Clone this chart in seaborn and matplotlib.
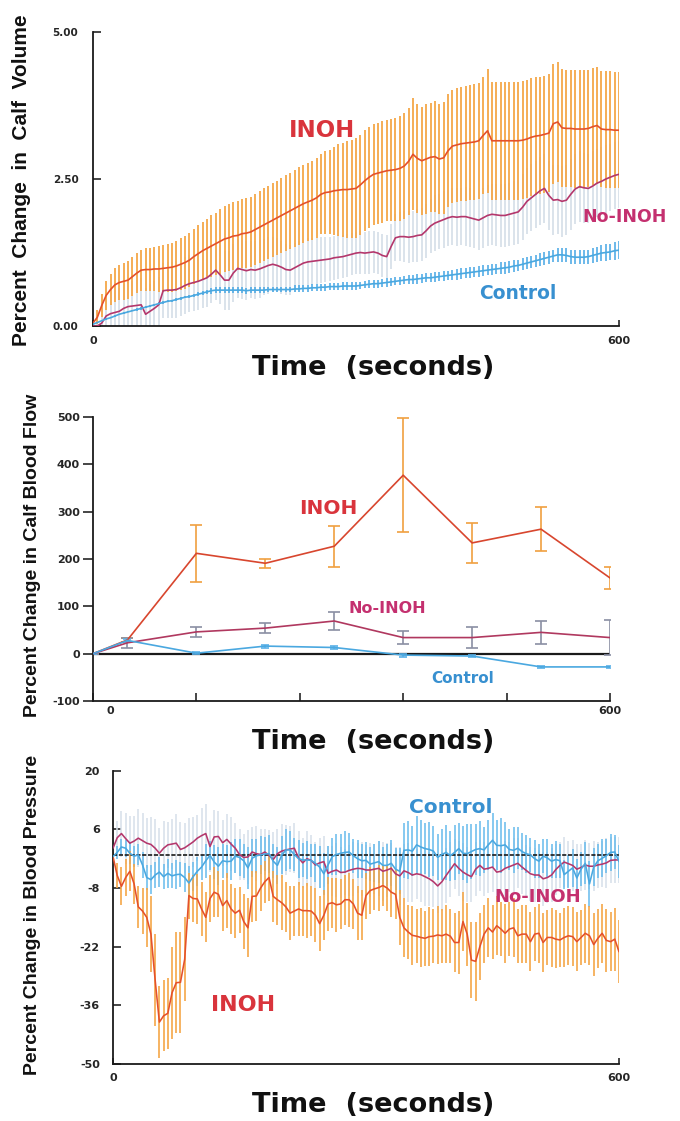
import numpy as np
import pandas as pd
import matplotlib
matplotlib.use("Agg")
import matplotlib.pyplot as plt
import seaborn as sns
from matplotlib.transforms import ScaledTranslation

sns.set_style("ticks")
plt.rcParams["font.family"] = ["DejaVu Sans"]
plt.rcParams["font.weight"] = "bold"
plt.rcParams["axes.unicode_minus"] = False

# ---------------- DATA ----------------
groups = ["INOH", "No-INOH", "Control"]

# Panel 1: calf volume (% change), sampled every 5 s
vol_time = np.arange(0, 601, 5)
vol_inoh = [
    0.05, 0.15, 0.35, 0.52, 0.62, 0.70, 0.74, 0.76, 0.78, 0.84,
    0.90, 0.95, 0.96, 0.96, 0.97, 0.97, 0.98, 0.99, 1.00, 1.02,
    1.05, 1.08, 1.12, 1.18, 1.23, 1.28, 1.32, 1.36, 1.40, 1.44,
    1.48, 1.50, 1.53, 1.54, 1.57, 1.58, 1.60, 1.64, 1.68, 1.72,
    1.76, 1.80, 1.84, 1.88, 1.92, 1.96, 2.00, 2.04, 2.08, 2.11,
    2.14, 2.18, 2.24, 2.27, 2.28, 2.30, 2.31, 2.32, 2.32, 2.33,
    2.34, 2.40, 2.47, 2.53, 2.58, 2.60, 2.62, 2.64, 2.65, 2.66,
    2.68, 2.72, 2.80, 2.92, 2.85, 2.81, 2.84, 2.87, 2.88, 2.84,
    2.86, 2.98, 3.06, 3.08, 3.10, 3.11, 3.12, 3.13, 3.15, 3.24,
    3.32, 3.15, 3.15, 3.15, 3.15, 3.15, 3.15, 3.15, 3.16, 3.18,
    3.21, 3.23, 3.24, 3.26, 3.28, 3.44, 3.47, 3.37, 3.36, 3.36,
    3.35, 3.35, 3.35, 3.36, 3.39, 3.41, 3.35, 3.34, 3.34, 3.33,
    3.33]
vol_inoh_err = [
    0.05, 0.12, 0.20, 0.24, 0.27, 0.29, 0.30, 0.31, 0.32, 0.33,
    0.34, 0.35, 0.36, 0.37, 0.38, 0.39, 0.40, 0.41, 0.42, 0.43,
    0.44, 0.45, 0.46, 0.47, 0.48, 0.49, 0.50, 0.52, 0.53, 0.55,
    0.56, 0.57, 0.58, 0.58, 0.59, 0.60, 0.60, 0.61, 0.61, 0.62,
    0.62, 0.63, 0.63, 0.64, 0.64, 0.65, 0.65, 0.66, 0.66, 0.67,
    0.67, 0.68, 0.68, 0.70, 0.72, 0.75, 0.78, 0.80, 0.82, 0.84,
    0.85, 0.85, 0.86, 0.86, 0.86, 0.86, 0.86, 0.86, 0.87, 0.88,
    0.89, 0.90, 0.91, 0.95, 0.92, 0.92, 0.93, 0.93, 0.94, 0.94,
    0.95, 0.96, 0.96, 0.97, 0.97, 0.98, 0.98, 0.99, 0.99, 1.00,
    1.05, 1.00, 1.00, 1.00, 1.00, 1.00, 1.00, 1.00, 1.00, 1.00,
    1.00, 1.00, 1.00, 1.00, 1.00, 1.02, 1.02, 1.00, 1.00, 1.00,
    1.00, 1.00, 1.00, 1.00, 0.99, 0.99, 0.99, 0.99, 0.99, 0.99,
    0.99]
vol_noinoh = [
    0.00, 0.00, 0.05, 0.17, 0.21, 0.23, 0.25, 0.30, 0.33, 0.34,
    0.35, 0.36, 0.20, 0.25, 0.30, 0.36, 0.60, 0.61, 0.61, 0.62,
    0.65, 0.69, 0.72, 0.74, 0.76, 0.79, 0.82, 0.88, 0.95, 0.87,
    0.78, 0.78, 0.90, 0.98, 0.96, 0.94, 0.96, 0.95, 0.97, 1.00,
    1.03, 1.05, 1.03, 1.00, 0.96, 0.95, 0.99, 1.03, 1.07, 1.09,
    1.10, 1.11, 1.12, 1.13, 1.14, 1.16, 1.17, 1.18, 1.20, 1.22,
    1.24, 1.25, 1.24, 1.25, 1.26, 1.24, 1.20, 1.18, 1.35, 1.50,
    1.52, 1.52, 1.51, 1.52, 1.54, 1.55, 1.62, 1.70, 1.75, 1.78,
    1.81, 1.84, 1.86, 1.85, 1.86, 1.86, 1.84, 1.82, 1.80, 1.84,
    1.88, 1.90, 1.89, 1.88, 1.88, 1.90, 1.92, 1.94, 2.02, 2.12,
    2.18, 2.24, 2.30, 2.34, 2.22, 2.14, 2.15, 2.12, 2.14, 2.24,
    2.33, 2.37, 2.35, 2.34, 2.38, 2.43, 2.46, 2.50, 2.53, 2.56,
    2.58]
vol_noinoh_err = [
    0.05, 0.15, 0.25, 0.32, 0.36, 0.38, 0.40, 0.41, 0.42, 0.43,
    0.44, 0.45, 0.45, 0.46, 0.46, 0.47, 0.47, 0.47, 0.48, 0.48,
    0.48, 0.48, 0.48, 0.48, 0.49, 0.49, 0.49, 0.49, 0.50, 0.50,
    0.50, 0.50, 0.50, 0.50, 0.50, 0.50, 0.49, 0.49, 0.49, 0.48,
    0.48, 0.47, 0.46, 0.45, 0.44, 0.43, 0.42, 0.41, 0.40, 0.40,
    0.40, 0.39, 0.39, 0.38, 0.38, 0.37, 0.37, 0.37, 0.36, 0.36,
    0.36, 0.36, 0.36, 0.36, 0.36, 0.36, 0.36, 0.36, 0.38, 0.40,
    0.42, 0.43, 0.44, 0.44, 0.45, 0.45, 0.46, 0.46, 0.47, 0.47,
    0.48, 0.48, 0.48, 0.49, 0.49, 0.50, 0.50, 0.50, 0.51, 0.51,
    0.52, 0.52, 0.53, 0.53, 0.54, 0.54, 0.55, 0.55, 0.56, 0.56,
    0.57, 0.57, 0.58, 0.58, 0.59, 0.59, 0.59, 0.60, 0.60, 0.60,
    0.60, 0.60, 0.60, 0.59, 0.59, 0.58, 0.58, 0.58, 0.57, 0.57,
    0.57]
vol_control = [
    0.03, 0.06, 0.09, 0.12, 0.14, 0.17, 0.20, 0.22, 0.24, 0.26,
    0.28, 0.30, 0.32, 0.34, 0.36, 0.38, 0.40, 0.42, 0.43, 0.45,
    0.47, 0.49, 0.50, 0.52, 0.54, 0.56, 0.58, 0.60, 0.61, 0.61,
    0.61, 0.61, 0.61, 0.61, 0.61, 0.60, 0.61, 0.61, 0.61, 0.61,
    0.62, 0.62, 0.62, 0.62, 0.62, 0.62, 0.63, 0.63, 0.64, 0.64,
    0.65, 0.65, 0.66, 0.66, 0.67, 0.67, 0.67, 0.68, 0.68, 0.68,
    0.68, 0.69, 0.70, 0.71, 0.72, 0.72, 0.73, 0.74, 0.75, 0.76,
    0.77, 0.78, 0.79, 0.79, 0.80, 0.81, 0.82, 0.82, 0.83, 0.84,
    0.85, 0.86, 0.87, 0.88, 0.89, 0.90, 0.91, 0.92, 0.93, 0.94,
    0.95, 0.96, 0.97, 0.98, 0.99, 1.00, 1.02, 1.03, 1.05, 1.07,
    1.09, 1.11, 1.13, 1.15, 1.17, 1.19, 1.21, 1.21, 1.20, 1.18,
    1.17, 1.17, 1.17, 1.18, 1.20, 1.22, 1.24, 1.25, 1.26, 1.28,
    1.29]
vol_control_err = [
    0.01, 0.01, 0.01, 0.01, 0.01, 0.01, 0.01, 0.01, 0.01, 0.01,
    0.02, 0.02, 0.02, 0.02, 0.02, 0.02, 0.02, 0.02, 0.02, 0.02,
    0.02, 0.02, 0.03, 0.03, 0.03, 0.03, 0.04, 0.05, 0.05, 0.05,
    0.05, 0.05, 0.05, 0.05, 0.05, 0.05, 0.05, 0.05, 0.05, 0.05,
    0.05, 0.05, 0.05, 0.05, 0.05, 0.05, 0.06, 0.06, 0.06, 0.06,
    0.06, 0.06, 0.06, 0.06, 0.06, 0.06, 0.06, 0.06, 0.06, 0.06,
    0.06, 0.06, 0.06, 0.07, 0.07, 0.07, 0.07, 0.07, 0.07, 0.07,
    0.07, 0.07, 0.08, 0.08, 0.08, 0.08, 0.08, 0.08, 0.08, 0.08,
    0.08, 0.08, 0.08, 0.09, 0.09, 0.09, 0.09, 0.09, 0.09, 0.09,
    0.09, 0.09, 0.09, 0.10, 0.10, 0.10, 0.10, 0.10, 0.10, 0.10,
    0.10, 0.10, 0.11, 0.11, 0.11, 0.11, 0.12, 0.12, 0.12, 0.12,
    0.12, 0.12, 0.12, 0.12, 0.13, 0.13, 0.13, 0.14, 0.14, 0.15,
    0.15]

# Panel 2: calf blood flow (% change)
flow_time = [0, 40, 120, 200, 280, 360, 440, 520, 600]
flow_inoh = [0, 29, 212, 191, 227, 377, 234, 263, 160]
flow_inoh_err = [0, 5, 60, 10, 43, 121, 43, 47, 24]
flow_noinoh = [0, 23, 46, 54, 69, 34, 34, 45, 34]
flow_noinoh_err = [0, 10, 10, 10, 20, 14, 22, 24, 37]
flow_control = [0, 28, 1, 16, 13, -3, -5, -28, -28]
flow_control_err = [0, 3, 2, 3, 3, 3, 3, 2, 3]

# Panel 3: blood pressure (% change), sampled every 5 s
bp_time = np.arange(0, 601, 5)
bp_inoh = [
    -0.5, -5.0, -7.6, -5.5, -4.0, -7.0, -12.5, -13.5, -15.0, -19.0,
    -30.0, -40.0, -38.5, -37.9, -33.0, -30.6, -30.5, -25.0, -9.8, -10.5,
    -10.6, -13.0, -15.0, -10.5, -9.0, -9.5, -12.2, -11.0, -13.0, -14.0,
    -13.3, -16.0, -17.5, -10.0, -9.9, -8.0, -6.5, -5.5, -10.0, -10.8,
    -11.5, -12.5, -14.0, -13.5, -13.0, -13.4, -13.4, -13.5, -14.5, -16.5,
    -14.5, -11.8, -11.5, -12.0, -11.8, -10.8, -10.8, -11.8, -14.0, -14.5,
    -9.8, -8.6, -8.2, -7.9, -7.4, -8.0, -9.0, -9.5, -15.0, -17.5,
    -18.5, -19.3, -19.5, -19.8, -20.0, -19.6, -19.5, -19.2, -19.4, -19.0,
    -19.5, -21.0, -21.0, -16.0, -19.0, -25.2, -25.5, -22.0, -19.0, -17.5,
    -18.5, -17.0, -17.8, -18.8, -17.8, -17.5, -19.4, -19.0, -19.0, -20.8,
    -19.0, -18.8, -21.0, -19.8, -19.8, -20.2, -20.4, -19.8, -19.4, -19.6,
    -20.8, -19.8, -18.8, -19.4, -21.5, -20.0, -18.8, -20.5, -20.8, -20.2,
    -23.2]
bp_inoh_err = [
    1.0, 3.0, 4.5, 4.5, 4.8, 4.8, 5.0, 5.5, 7.0, 9.0,
    11.0, 8.5, 8.5, 8.5, 11.0, 12.0, 12.0, 10.0, 5.5, 5.5,
    6.0, 6.5, 6.0, 5.5, 6.0, 5.5, 6.0, 6.5, 6.0, 6.0,
    5.5, 6.5, 7.0, 6.0, 6.0, 5.5, 5.0, 5.5, 6.0, 6.0,
    6.5, 6.0, 6.5, 6.0, 6.5, 6.0, 6.5, 6.0, 6.5, 6.5,
    6.0, 6.5, 6.0, 6.5, 6.0, 6.0, 6.5, 6.0, 6.5, 6.0,
    5.5, 5.5, 5.0, 5.5, 5.0, 5.5, 6.0, 6.0, 6.5, 7.0,
    6.5, 7.0, 6.5, 7.0, 6.5, 7.0, 6.5, 7.0, 6.5, 7.0,
    6.5, 7.0, 7.5, 7.0, 7.5, 9.0, 9.5, 8.0, 7.0, 7.0,
    6.5, 7.0, 6.5, 7.0, 6.5, 7.0, 6.5, 7.0, 7.0, 7.0,
    6.5, 7.0, 7.0, 6.5, 7.0, 7.0, 6.5, 7.0, 7.0, 7.0,
    7.0, 6.5, 7.0, 7.0, 7.5, 7.0, 7.0, 7.5, 7.0, 7.5,
    7.5]
bp_noinoh = [
    1.5, 4.0, 5.0, 3.8, 2.7, 3.2, 3.9, 3.3, 2.7, 2.4,
    1.5, 0.3, 1.5, 2.3, 2.5, 2.7, 1.2, 1.6, 2.3, 3.0,
    3.9, 4.5, 5.0, 1.9, 4.2, 4.3, 2.8, 3.6, 2.5, 1.5,
    0.0, -0.7, -0.6, 0.6, 0.2, 0.0, 0.6, -0.2, -1.2, 0.2,
    0.8, 1.1, 1.3, 1.5, -0.8, -2.0, -1.0, -1.4, -2.5, -2.0,
    -1.7, -4.5, -4.0, -3.7, -4.3, -4.2, -3.8, -3.5, -3.3, -3.4,
    -3.7, -3.7, -3.5, -3.3, -4.0, -3.7, -3.3, -4.6, -5.1, -3.9,
    -4.3, -4.9, -4.6, -4.8, -5.3, -5.8, -6.5, -7.5, -6.5, -5.0,
    -3.6, -2.2, -3.3, -4.2, -4.8, -5.3, -3.5, -2.6, -3.5, -3.3,
    -3.0, -4.2, -4.0, -3.3, -2.9, -2.5, -2.1, -3.0, -3.8, -4.6,
    -4.9, -4.9, -5.8, -5.5, -4.9, -3.6, -2.6, -1.8, -2.2, -2.6,
    -3.5, -3.1, -2.5, -2.8, -2.8, -2.5, -2.3, -2.0, -1.4, -1.3,
    -1.3]
bp_noinoh_err = [
    2.0, 4.0, 5.5, 6.0, 6.5, 6.0, 7.0, 6.5, 6.0, 6.5,
    7.0, 6.0, 6.5, 5.5, 6.0, 7.0, 6.5, 6.0, 6.5, 6.0,
    5.5, 6.5, 7.0, 6.0, 6.5, 6.0, 5.5, 6.0, 6.5, 6.0,
    6.0, 5.5, 6.5, 6.0, 6.5, 6.0, 5.5, 6.0, 6.5, 6.0,
    6.5, 6.0, 5.5, 6.0, 6.5, 6.0, 6.5, 6.0, 5.5, 6.0,
    6.0, 6.5, 6.0, 6.5, 6.0, 5.5, 6.0, 6.5, 6.0, 6.5,
    6.0, 6.5, 6.0, 6.5, 7.0, 6.5, 6.0, 6.5, 7.0, 6.5,
    7.0, 6.5, 6.0, 6.5, 7.0, 6.5, 6.0, 6.5, 7.0, 6.5,
    6.5, 6.0, 6.5, 7.0, 6.5, 6.0, 6.5, 6.0, 6.5, 6.0,
    6.0, 6.5, 6.0, 6.5, 6.0, 6.5, 6.0, 6.5, 6.0, 6.5,
    6.5, 6.0, 6.5, 6.0, 6.5, 6.0, 5.5, 6.0, 5.5, 6.0,
    6.0, 5.5, 6.0, 5.5, 6.0, 5.5, 5.5, 6.0, 5.5, 5.5,
    5.5]
bp_control = [
    -0.5, 0.5, 1.8, 1.5, 0.3, -0.4, -0.1, -2.5, -5.5, -6.0,
    -4.9, -4.2, -5.3, -4.5, -5.1, -4.8, -4.7, -5.5, -6.8, -5.3,
    -4.0, -3.0, -1.5, -0.2, -1.8, -2.8, -1.5, -1.7, -1.6, -0.4,
    -0.7, -1.5, -3.2, -0.9, -0.3, -0.1, 0.1, 0.2, -1.6, -2.6,
    -0.2, 1.1, 1.1, 0.0, -1.0, -1.3, -1.3, -1.4, -2.1, -3.0,
    -4.6, -2.5, -0.5, 0.0, 0.3, 0.5, 0.6, -0.3, -1.0, -1.5,
    -1.4, -2.3, -2.0, -1.7, -2.6, -2.6, -2.1, -3.5, -4.0, 1.0,
    1.1, 0.8, 2.3, 1.8, 1.4, 1.2, 0.8, -0.7, 0.0, 0.5,
    -0.3, 0.5, 1.4, 0.3, 0.2, 0.7, 1.2, 1.4, 1.1, 2.3,
    3.4, 2.2, 2.1, 2.3, 1.2, 1.0, 1.5, 0.7, 0.2, -0.1,
    -1.0, -1.6, -0.4, -0.8, -1.6, -1.2, -1.5, -4.8, -4.0, -3.2,
    -5.6, -3.5, -2.1, -7.0, -3.0, -1.5, -0.9, -0.3, 0.5, 0.6,
    -1.7]
bp_control_err = [
    1.0, 1.5, 2.0, 2.0, 2.5, 2.5, 2.5, 3.0, 3.0, 3.5,
    3.0, 3.5, 3.0, 3.5, 3.0, 3.5, 3.0, 3.5, 4.0, 3.5,
    3.5, 3.0, 4.0, 3.5, 4.0, 4.5, 4.0, 4.0, 4.5, 4.0,
    4.5, 4.0, 5.0, 4.5, 4.0, 4.5, 4.0, 4.5, 4.0, 4.5,
    4.5, 5.0, 4.5, 4.0, 4.5, 4.0, 4.5, 4.0, 4.5, 5.0,
    5.0, 4.5, 4.5, 5.0, 4.5, 5.0, 4.5, 4.0, 4.5, 4.0,
    4.5, 4.0, 4.5, 5.0, 4.5, 5.0, 5.5, 5.0, 5.5, 6.5,
    7.0, 6.0, 7.0, 6.5, 6.0, 6.5, 6.0, 5.5, 6.0, 6.5,
    6.0, 6.5, 6.0, 6.5, 7.0, 6.5, 6.0, 6.5, 5.5, 6.0,
    6.5, 6.0, 6.5, 5.5, 5.0, 5.5, 5.0, 4.5, 4.5, 4.0,
    4.5, 4.0, 4.0, 4.5, 4.0, 4.5, 4.0, 3.5, 4.0, 4.5,
    4.5, 4.0, 5.0, 5.5, 4.5, 4.0, 4.5, 4.0, 4.5, 4.0,
    4.0]

# ---------------- STYLE ----------------
line_colors = {"INOH": "#e4512b", "No-INOH": "#b4376c", "Control": "#4aa8e0"}
label_colors = {"INOH": "#d9343c", "No-INOH": "#c4306f", "Control": "#3890d0"}
W, H = 680, 1121

fig = plt.figure(figsize=(6.8, 11.21), dpi=100)


def rect(l, t, r, b):
    return [l / W, 1 - b / H, (r - l) / W, (b - t) / H]


ax1 = fig.add_axes(rect(93, 32, 619, 326))
ax2 = fig.add_axes(rect(93, 417, 610, 701))
ax3 = fig.add_axes(rect(113, 770.7, 619, 1064))


def long_df(t, series):
    frames = []
    for g, v in zip(groups, series):
        frames.append(pd.DataFrame({"time": np.asarray(t), "value": np.asarray(v, float), "group": g}))
    return pd.concat(frames, ignore_index=True)


def style(ax):
    for s in ["top", "right"]:
        ax.spines[s].set_visible(False)
    for s in ["left", "bottom"]:
        ax.spines[s].set_linewidth(1.3)
        ax.spines[s].set_color("#1a1a1a")
    ax.set_xlabel("")
    ax.set_ylabel("")
    ax.grid(False)


def bars(ax, t, m, e, color, lw, z):
    m = np.asarray(m, float)
    e = np.asarray(e, float)
    ax.vlines(t, m - e, m + e, color=color, lw=lw, zorder=z)


# ---- Panel 1 ----
bars(ax1, vol_time, vol_noinoh, vol_noinoh_err, "#d6dfe9", 1.25, 1)
bars(ax1, vol_time, vol_inoh, vol_inoh_err, "#f5a748", 1.3, 2)
bars(ax1, vol_time, vol_control, vol_control_err, "#45a6e4", 1.1, 3)
sns.lineplot(data=long_df(vol_time, [vol_inoh, vol_noinoh, vol_control]),
             x="time", y="value", hue="group", palette=line_colors,
             estimator=None, linewidth=1.2, legend=False, ax=ax1, zorder=4)
ax1.set_xlim(0, 600)
ax1.set_ylim(0, 5)
ax1.set_yticks([0, 2.5, 5])
ax1.set_yticklabels(["0.00", "2.50", "5.00"])
ax1.set_xticks([0, 600])
ax1.set_xticklabels(["0", "600"])
ax1.tick_params(axis="y", direction="in", length=6, width=1.2, pad=10.5, labelsize=7.5)
ax1.tick_params(axis="x", direction="in", length=4, width=1.2, pad=7, labelsize=8)
style(ax1)
ax1.text(261, 3.33, "INOH", color=label_colors["INOH"], fontsize=16.5, ha="center", va="center")
ax1.text(606, 1.85, "No-INOH", color=label_colors["No-INOH"], fontsize=12.5, ha="center", va="center", clip_on=False)
ax1.text(485, 0.56, "Control", color=label_colors["Control"], fontsize=13.5, ha="center", va="center")

# ---- Panel 2 ----
ax2.axhline(0, color="#1a1a1a", lw=1.6, zorder=1)
ax2.errorbar(flow_time, flow_inoh, yerr=flow_inoh_err, fmt="none", ecolor="#f0a040",
             elinewidth=1.2, capsize=4, capthick=1.2, zorder=2)
ax2.errorbar(flow_time, flow_noinoh, yerr=flow_noinoh_err, fmt="none", ecolor="#8a8fa3",
             elinewidth=1.2, capsize=4, capthick=1.2, zorder=2)
ax2.errorbar(flow_time, flow_control, yerr=flow_control_err, fmt="none", ecolor="#5ab0e8",
             elinewidth=1.2, capsize=3, capthick=1.2, zorder=2)
sns.lineplot(data=long_df(flow_time, [flow_inoh, flow_noinoh, flow_control]),
             x="time", y="value", hue="group",
             palette={"INOH": "#d8462e", "No-INOH": "#b0385f", "Control": "#4aa8e0"},
             estimator=None, linewidth=1.2, legend=False, ax=ax2, zorder=3)
ax2.set_xlim(0, 600)
ax2.set_ylim(-100, 500)
ax2.set_yticks([-100, 0, 100, 200, 300, 400, 500])
ax2.set_xticks([0, 120, 240, 360, 480, 600])
ax2.set_xticklabels(["0", "", "", "", "", "600"])
ax2.tick_params(axis="y", direction="out", length=7, width=1.2, pad=2.5, labelsize=8)
ax2.tick_params(axis="x", direction="in", length=6, width=1.2, pad=3.5, labelsize=8)
style(ax2)
lbl0 = ax2.get_xticklabels()[0]
lbl0.set_transform(lbl0.get_transform() + ScaledTranslation(0.17, 0, fig.dpi_scale_trans))
ax2.text(273, 307, "INOH", color=label_colors["INOH"], fontsize=14.5, ha="center", va="center")
ax2.text(342, 95, "No-INOH", color=label_colors["No-INOH"], fontsize=11.5, ha="center", va="center")
ax2.text(429, -52, "Control", color=label_colors["Control"], fontsize=11, ha="center", va="center")

# ---- Panel 3 ----
bars(ax3, bp_time, bp_noinoh, bp_noinoh_err, "#d6dfe9", 1.1, 1)
bars(ax3, bp_time, bp_control, bp_control_err, "#66baec", 1.1, 2)
bars(ax3, bp_time, bp_inoh, bp_inoh_err, "#f5a748", 1.2, 2.5)
ax3.axhline(0, color="#1a1a1a", lw=1.2, ls=(0, (2.5, 1)), zorder=3)
sns.lineplot(data=long_df(bp_time, [bp_inoh, bp_noinoh, bp_control]),
             x="time", y="value", hue="group", palette=line_colors,
             estimator=None, linewidth=1.15, legend=False, ax=ax3, zorder=4)
ax3.set_xlim(0, 600)
ax3.set_ylim(-50, 20)
ax3.set_yticks([20, 6, -8, -22, -36, -50])
ax3.set_xticks([0, 600])
ax3.set_xticklabels(["0", "600"])
ax3.tick_params(axis="y", direction="in", length=6, width=1.2, pad=9.5, labelsize=8)
ax3.tick_params(axis="x", direction="in", length=4, width=1.2, pad=6.5, labelsize=8)
style(ax3)
ax3.text(401, 11.1, "Control", color=label_colors["Control"], fontsize=14.5, ha="center", va="center")
ax3.text(503, -10.1, "No-INOH", color=label_colors["No-INOH"], fontsize=13, ha="center", va="center")
ax3.text(154, -35.9, "INOH", color=label_colors["INOH"], fontsize=16, ha="center", va="center")

# ---- axis titles ----
for y in (368, 742, 1105):
    fig.text(373 / W, 1 - y / H, "Time  (seconds)", fontsize=19.5, fontweight="bold",
             ha="center", va="center", color="#111111")

ylab_font = ["Liberation Sans", "DejaVu Sans"]
fig.text(22 / W, 1 - 180 / H, "Percent  Change  in  Calf  Volume", rotation=90,
         fontsize=15, fontweight="bold", family=ylab_font, ha="center", va="center", color="#111111")
fig.text(33 / W, 1 - 555 / H, "Percent Change in Calf Blood Flow", rotation=90,
         fontsize=14, fontweight="bold", family=ylab_font, ha="center", va="center", color="#111111")
fig.text(33 / W, 1 - 915 / H, "Percent Change in Blood Pressure", rotation=90,
         fontsize=14, fontweight="bold", family=ylab_font, ha="center", va="center", color="#111111")

fig.savefig("out.png", dpi=100)
